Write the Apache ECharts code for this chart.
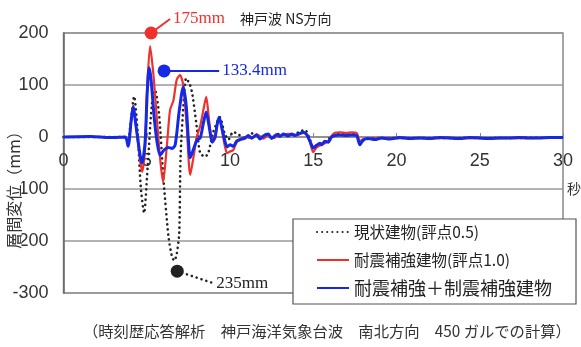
<!DOCTYPE html>
<html><head><meta charset="utf-8">
<script src="https://cdn.jsdelivr.net/npm/echarts@6/dist/echarts.min.js"></script>
<style>html,body{margin:0;padding:0;background:#fff}#c{width:581px;height:347px}</style>
</head><body><div id="c"></div>
<script>
// ---- data (time in seconds, displacement in mm) ----
const seriesNames = ['現状建物(評点0.5)', '耐震補強建物(評点1.0)', '耐震補強＋制震補強建物'];
const xTicks = [0, 5, 10, 15, 20, 25, 30];
const yTicks = [-300, -200, -100, 0, 100, 200];

const existingData = [[0,0],[1.6,0],[2.8,0],[3.7,0],[3.88,-5],[4.06,35],[4.24,78],[4.45,10],[4.65,-100],[4.84,-146],[5.05,-60],[5.3,60],[5.5,90],[5.75,40],[6.0,-80],[6.3,-190],[6.5,-228],[6.65,-238],[6.8,-225],[6.95,-185],[7.03,-40],[7.2,60],[7.37,113],[7.6,100],[7.75,80],[8.0,20],[8.2,-30],[8.5,-38],[8.7,-30],[9.0,10],[9.4,38],[9.65,10],[9.9,-5],[10.2,10],[10.5,5],[11.0,-3],[11.4,8],[11.8,0],[12.2,5],[12.6,-2],[13.0,7],[13.4,2],[13.8,5],[14.2,10],[14.5,14],[14.8,-5],[15.0,-20],[15.3,-14],[15.6,-10],[16.0,-2],[16.4,5],[17.0,6],[17.6,5],[17.8,-10],[18.2,-4],[19.0,-2],[22,-2],[26,-2],[30,-1]];

const retrofitData = [[0,0],[1.6,1],[2.8,-1],[3.7,0],[3.88,-15],[4.06,30],[4.18,60],[4.36,20],[4.6,-45],[4.72,-67],[4.9,-20],[5.02,90],[5.2,175],[5.4,120],[5.62,30],[5.8,-40],[5.98,-87],[6.2,-20],[6.4,52],[6.6,70],[6.8,110],[7.0,119],[7.19,100],[7.4,20],[7.61,-73],[7.8,-40],[8.0,0],[8.2,20],[8.39,50],[8.57,77],[8.75,30],[8.93,-5],[9.11,5],[9.35,38],[9.53,10],[9.71,-20],[9.83,-31],[10.0,-28],[10.2,-25],[10.4,-10],[10.6,-5],[11.0,0],[11.3,-3],[11.6,5],[12.0,-3],[12.3,4],[12.5,-2],[13.0,3],[13.5,6],[13.9,3],[14.2,6],[14.4,8],[14.6,4],[14.8,-10],[15.0,-29],[15.2,-20],[15.5,-15],[15.9,-8],[16.1,2],[16.3,8],[16.6,9],[17.0,8],[17.3,9],[17.6,8],[17.8,-8],[18.0,-4],[18.5,-3],[19.0,-2],[20,-2],[22,-2],[24,-2],[26,-2],[28,-2],[30,-1]];

const damperData = [[0,0],[1.6,1],[2.8,-1],[3.7,0],[3.88,-18],[4.06,30],[4.18,58],[4.36,20],[4.6,-35],[4.72,-50],[4.9,-10],[5.02,80],[5.14,133],[5.26,110],[5.44,40],[5.62,-10],[5.8,-35],[6.04,-25],[6.28,-20],[6.52,-22],[6.71,-15],[6.95,50],[7.19,96],[7.37,60],[7.49,0],[7.61,-40],[7.79,-25],[8.03,-5],[8.21,-2],[8.39,25],[8.57,48],[8.75,20],[8.93,-10],[9.11,0],[9.23,25],[9.35,38],[9.53,15],[9.71,-10],[9.83,-19],[10.0,-15],[10.2,-18],[10.4,-8],[10.6,-5],[10.9,-2],[11.1,3],[11.3,-2],[11.6,4],[11.8,-4],[12.0,2],[12.3,6],[12.5,-3],[12.8,5],[13.0,1],[13.2,6],[13.5,2],[13.7,6],[13.9,3],[14.2,7],[14.4,9],[14.6,5],[14.8,-8],[15.0,-21],[15.2,-16],[15.4,-12],[15.5,-15],[15.7,-8],[15.9,-10],[16.1,0],[16.3,3],[16.6,4],[17.0,3],[17.3,4],[17.6,3],[17.8,-15],[18.0,-6],[18.3,-3],[18.7,-5],[19.1,-2],[19.6,-4],[20.2,-1],[20.8,-3],[21.4,-2],[22.0,-3],[22.6,-1],[23.2,-2],[23.8,-3],[24.4,-1],[25.0,-2],[25.6,-3],[26.2,-2],[26.8,-2],[27.4,-1],[28.0,-2],[28.6,-2],[29.2,-1],[30,-1]];

// peak annotations: [dot position, label anchor] in data units
const peakRetrofitLabel = '175mm';
const peakRetrofitPts = [[5.26,200],[6.40,227]];
const peakDamperLabel = '133.4mm';
const peakDamperPts = [[6.04,127],[9.35,127]];
const peakExistingLabel = '235mm';
const peakExistingPts = [[6.83,-258],[8.99,-281]];

const COL_BLACK = '#222';
const COL_RED = '#f0302a';
const COL_BLUE = '#1428e6';
const SERIF = '"Liberation Serif","DejaVu Serif",serif';
const CJK = '"Noto Sans CJK JP","Noto Sans",sans-serif';
const NUMF = '"Liberation Sans Narrow","Liberation Sans",Arial,sans-serif';

function annSeries(pts, label, color, dotted) {
  return {
    type: 'line', data: pts, silent: true, clip: false, z: 5,
    symbol: 'circle', showSymbol: true,
    symbolSize: (v, p) => p.dataIndex === 0 ? 13 : 0,
    itemStyle: { color: color },
    lineStyle: dotted ? { color: color, width: 2.5, type: [0.1, 5], cap: 'round' } : { color: color, width: 2 },
    label: {
      show: true, position: 'right', distance: 3,
      formatter: p => p.dataIndex === 1 ? label : '',
      color: color, fontFamily: SERIF, fontSize: 17
    },
    animation: false
  };
}

const chart = echarts.init(document.getElementById('c'));
chart.setOption({
  animation: false,
  backgroundColor: '#fff',
  title: [
    { text: '神戸波 NS方向', left: 240, top: 12, padding: 0, textStyle: { fontFamily: CJK, fontSize: 14, fontWeight: 'normal', color: '#222' } },
    { text: '秒', left: 567, top: 182, padding: 0, textStyle: { fontFamily: CJK, fontSize: 14, fontWeight: 'normal', color: '#333' } },
    { text: '（時刻歴応答解析　神戸海洋気象台波　南北方向　450 ガルでの計算）', left: 83, top: 324, padding: 0, textStyle: { fontFamily: CJK, fontSize: 15.3, fontWeight: 'normal', color: '#333' } }
  ],
  graphic: [{
    type: 'text', x: 14, y: 186, rotation: Math.PI / 2, z: 10,
    style: { text: '層間変位（mm）', fontFamily: CJK, fontSize: 16, lineHeight: 15, fill: '#333', align: 'center', verticalAlign: 'middle', backgroundColor: '#fff' }
  }],
  grid: { left: 63.5, right: 18, top: 33, bottom: 54, show: true, borderColor: '#888', borderWidth: 1.5, backgroundColor: 'transparent' },
  legend: {
    data: seriesNames.map((n, i) => ({ name: n, textStyle: { fontSize: i === 2 ? 18 : 15.5 } })),
    orient: 'vertical', left: 293, top: 219,
    padding: [3, 24, 6, 23], itemGap: 8, itemWidth: 32, itemHeight: 14,
    backgroundColor: '#fff', borderColor: '#555', borderWidth: 1.2,
    itemStyle: { opacity: 0 },
    textStyle: { fontFamily: CJK, color: '#222', lineHeight: 20 },
    z: 20
  },
  xAxis: {
    type: 'value', min: 0, max: 30, interval: 5,
    position: 'bottom', offset: -156,
    axisLine: { onZero: false, lineStyle: { color: '#888', width: 1.5 } },
    axisTick: { show: true, inside: true, length: 4, lineStyle: { color: '#888' } },
    axisLabel: { margin: 15, fontFamily: NUMF, fontSize: 18, color: '#333',
      customValues: xTicks },
    splitLine: { show: false }
  },
  yAxis: {
    type: 'value', min: -300, max: 200, interval: 100,
    axisLine: { show: true, lineStyle: { color: '#666', width: 1.5 } },
    axisTick: { show: false },
    axisLabel: { margin: 15, fontFamily: NUMF, fontSize: 18, color: '#333' },
    splitLine: { show: true, lineStyle: { color: '#999', width: 1.5 } }
  },
  series: [
    { name: seriesNames[0], type: 'line', data: existingData, symbol: 'none', smooth: 0.25, z: 2,
      lineStyle: { color: COL_BLACK, width: 2.6, type: [0.1, 5], cap: 'round' }, itemStyle: { color: COL_BLACK } },
    { name: seriesNames[1], type: 'line', data: retrofitData, symbol: 'none', smooth: 0.25, z: 3,
      lineStyle: { color: COL_RED, width: 2.2 }, itemStyle: { color: COL_RED } },
    { name: seriesNames[2], type: 'line', data: damperData, symbol: 'none', smooth: 0.25, z: 4,
      lineStyle: { color: COL_BLUE, width: 3 }, itemStyle: { color: COL_BLUE } },
    annSeries(peakRetrofitPts, peakRetrofitLabel, COL_RED, false),
    annSeries(peakDamperPts, peakDamperLabel, COL_BLUE, false),
    annSeries(peakExistingPts, peakExistingLabel, COL_BLACK, true)
  ]
});
</script>
</body></html>
